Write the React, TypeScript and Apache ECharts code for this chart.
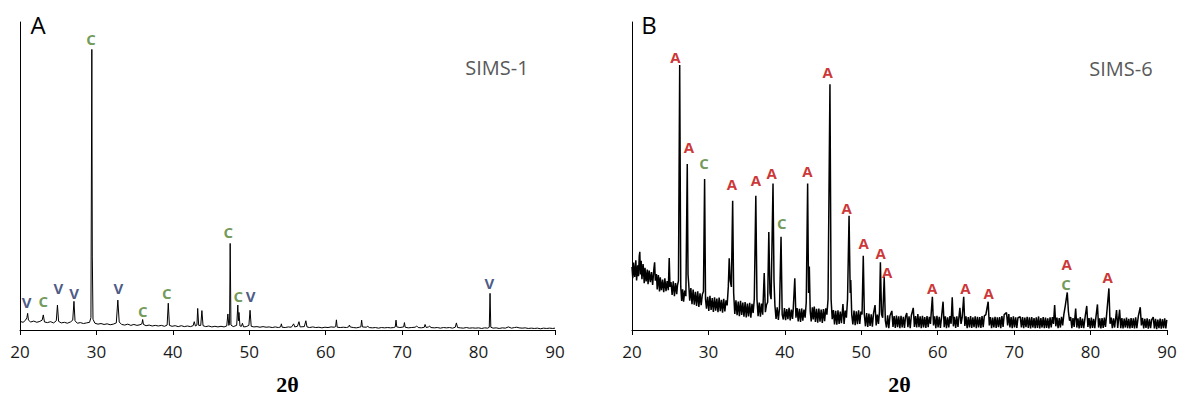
import { useEffect, useRef } from "react";
import * as echarts from "echarts";

// ---------- DATA (2θ, intensity in % of axis height) ----------
const X_MIN = 20;
const X_MAX = 90;
const X_STEP = 10;

const PATTERN_A: [number, number][] = [
  [20.0, 2.8], [20.4, 2.5], [20.7, 3.1], [20.9, 4], [21.0, 5.4], [21.1, 3.2], [21.4, 2.6], [21.8, 2.9],
  [22.2, 2.5], [22.6, 2.8], [22.9, 3.2], [23.05, 4.9], [23.2, 2.6], [23.6, 2.4], [24.0, 2.7], [24.4, 2.3],
  [24.75, 3], [24.9, 8.1], [25.05, 2.8], [25.4, 2.3], [25.8, 2.5], [26.2, 2.2], [26.6, 2.6], [26.9, 3.2],
  [27.06, 9.3], [27.2, 3], [27.5, 2.2], [27.9, 2.4], [28.3, 2.1], [28.7, 2.3], [29.1, 2.5], [29.28, 4],
  [29.4, 91.1], [29.46, 24], [29.55, 3.5], [29.8, 2.2], [30.2, 1.9], [30.6, 2.1], [31.0, 1.8], [31.4, 2],
  [31.8, 1.7], [32.2, 1.9], [32.6, 2.3], [32.8, 9.7], [32.98, 2.6], [33.3, 1.8], [33.7, 1.6], [34.1, 1.9],
  [34.5, 1.5], [34.9, 1.8], [35.3, 1.5], [35.7, 1.7], [35.95, 2], [36.05, 3.4], [36.15, 1.8], [36.5, 1.4],
  [36.9, 1.6], [37.3, 1.3], [37.7, 1.5], [38.1, 1.3], [38.5, 1.5], [38.9, 1.2], [39.25, 1.6], [39.4, 8.7],
  [39.55, 1.5], [39.9, 1.2], [40.3, 1.4], [40.7, 1.1], [41.1, 1.4], [41.5, 1.1], [41.9, 1.3], [42.3, 1.1],
  [42.65, 1.4], [42.8, 2.7], [42.95, 1.3], [43.15, 1.6], [43.25, 7], [43.38, 1.5], [43.65, 1.5], [43.8, 6.3],
  [43.95, 1.4], [44.3, 1.1], [44.7, 1.3], [45.1, 1], [45.5, 1.2], [45.9, 1], [46.3, 1.2], [46.7, 1],
  [47.05, 1.3], [47.2, 5.2], [47.32, 1.5], [47.42, 2], [47.5, 28.1], [47.6, 1.6], [47.9, 1.1], [48.35, 1.5],
  [48.5, 8.1], [48.58, 3], [48.65, 5.7], [48.78, 1.3], [48.98, 1.2], [49.1, 2.2], [49.25, 1], [49.6, 1.1],
  [49.95, 1.5], [50.1, 6.4], [50.25, 1.2], [50.6, 1], [51.0, 1.1], [51.4, 0.9], [51.8, 1.1], [52.2, 0.9],
  [52.6, 1], [53.0, 0.8], [53.4, 1], [53.8, 0.8], [54.1, 1], [54.2, 2], [54.3, 0.9], [54.7, 0.8],
  [55.1, 1], [55.5, 0.9], [55.7, 1.6], [55.8, 2], [55.95, 1], [56.3, 1.2], [56.5, 2.7], [56.65, 1],
  [57.2, 1.1], [57.4, 3], [57.55, 1], [57.9, 0.8], [58.3, 1], [58.7, 0.8], [59.1, 0.9], [59.5, 0.7],
  [59.9, 0.9], [60.3, 0.8], [60.7, 1], [61.1, 0.9], [61.3, 1.1], [61.4, 3.3], [61.5, 0.9], [61.9, 0.8],
  [62.3, 0.9], [62.7, 0.8], [63.0, 1], [63.1, 1.6], [63.2, 1], [63.6, 0.8], [64.0, 0.7], [64.4, 0.9],
  [64.6, 1], [64.7, 3.2], [64.8, 1], [65.3, 0.9], [65.5, 1.2], [65.7, 0.8], [66.1, 0.7], [66.5, 0.8],
  [66.9, 0.6], [67.3, 0.8], [67.7, 0.7], [68.1, 0.8], [68.5, 0.7], [68.9, 0.8], [69.1, 1], [69.2, 3.2],
  [69.3, 1], [69.7, 0.8], [70.2, 1], [70.3, 2.4], [70.4, 0.9], [70.8, 0.7], [71.2, 0.8], [71.7, 0.9],
  [71.9, 1.3], [72.1, 0.8], [72.5, 0.7], [72.9, 0.9], [73.0, 1.8], [73.15, 0.8], [73.45, 1], [73.6, 1.3],
  [73.75, 0.8], [74.2, 0.7], [74.6, 0.8], [75.0, 0.6], [75.4, 0.8], [75.8, 0.7], [76.2, 0.8], [76.6, 0.6],
  [76.95, 0.9], [77.1, 2.3], [77.25, 0.8], [77.6, 0.7], [78.0, 0.6], [78.4, 0.8], [78.8, 0.6], [79.2, 0.7],
  [79.6, 0.6], [80.0, 0.7], [80.4, 0.5], [80.8, 0.7], [81.2, 0.6], [81.4, 0.9], [81.5, 11.9], [81.6, 0.9],
  [81.9, 0.6], [82.3, 0.7], [82.7, 0.5], [83.1, 0.7], [83.5, 0.6], [83.9, 1], [84.3, 0.6], [84.7, 0.8],
  [85.0, 0.9], [85.3, 0.7], [85.7, 0.6], [86.1, 0.7], [86.5, 0.5], [86.9, 0.6], [87.3, 0.5], [87.7, 0.6],
  [88.1, 0.4], [88.5, 0.6], [88.9, 0.5], [89.3, 0.6], [89.7, 0.5], [90.0, 0.6],
];

const PATTERN_B: [number, number][] = [
  [20.0, 20.5], [20.1, 16.8], [20.2, 21.9], [20.35, 17.2], [20.5, 22.6], [20.6, 16.1], [20.75, 21], [20.85, 17.5],
  [20.95, 24], [21.02, 25.4], [21.1, 18], [21.2, 22.5], [21.3, 16.5], [21.45, 21.4], [21.6, 15.2], [21.7, 20.2],
  [21.85, 15.8], [22.0, 19.6], [22.1, 14.9], [22.25, 19.3], [22.4, 15.5], [22.55, 18.8], [22.7, 14.6], [22.85, 19.5],
  [22.96, 22], [23.05, 16], [23.2, 18.2], [23.3, 13.2], [23.45, 17.8], [23.6, 12.5], [23.7, 17.1], [23.85, 12.9],
  [24.0, 16.4], [24.15, 12.3], [24.3, 16.8], [24.45, 12.6], [24.6, 15.9], [24.75, 12.9], [24.87, 23.4], [24.97, 14],
  [25.1, 15.6], [25.25, 11.4], [25.4, 15.8], [25.55, 11], [25.7, 15.2], [25.85, 11.6], [25.95, 14.5], [26.08, 16],
  [26.24, 86], [26.38, 14], [26.5, 9.4], [26.62, 13.2], [26.75, 9.2], [26.9, 12.8], [27.05, 11], [27.23, 53.9],
  [27.33, 18], [27.42, 15], [27.55, 9.5], [27.7, 13.6], [27.85, 8.4], [28.0, 13.1], [28.15, 8.2], [28.3, 12.4],
  [28.45, 7.8], [28.6, 12.6], [28.75, 7.5], [28.9, 11.9], [29.05, 8.1], [29.2, 11.5], [29.35, 12.5], [29.5, 49],
  [29.62, 10], [29.75, 6.9], [29.9, 10.8], [30.05, 6.2], [30.2, 11.1], [30.35, 6.5], [30.5, 10.4], [30.65, 5.9],
  [30.8, 10.6], [30.95, 6.3], [31.1, 10.2], [31.25, 5.8], [31.4, 10.5], [31.55, 6.1], [31.7, 9.8], [31.85, 5.6],
  [32.0, 10.1], [32.15, 6], [32.3, 9.6], [32.45, 8], [32.6, 14], [32.72, 23.3], [32.85, 16], [33.0, 14],
  [33.17, 42], [33.3, 12], [33.45, 5.2], [33.6, 9.6], [33.75, 4.8], [33.9, 9.2], [34.05, 4.5], [34.2, 9.5],
  [34.35, 4.9], [34.5, 8.9], [34.65, 4.3], [34.8, 9.1], [34.95, 4.1], [35.1, 8.6], [35.25, 4.4], [35.4, 8.8],
  [35.55, 4], [35.7, 8.5], [35.85, 5.5], [36.0, 10], [36.2, 43.6], [36.35, 10], [36.5, 4.5], [36.65, 8.9],
  [36.8, 4.3], [36.95, 8.6], [37.1, 5], [37.3, 18.5], [37.45, 5.8], [37.6, 8.2], [37.75, 9], [37.9, 31.8],
  [38.05, 12], [38.2, 10], [38.45, 47.6], [38.58, 16], [38.7, 8], [38.85, 3.6], [39.0, 7.4], [39.15, 3.3],
  [39.3, 7], [39.5, 30.3], [39.65, 5], [39.8, 3.4], [39.95, 7.1], [40.1, 3.2], [40.25, 6.8], [40.4, 3.5],
  [40.55, 7.2], [40.7, 3.1], [40.85, 6.6], [41.0, 3.6], [41.1, 7], [41.3, 16.8], [41.45, 4], [41.6, 7.1],
  [41.75, 2.8], [41.9, 6.9], [42.05, 2.6], [42.2, 7], [42.35, 3], [42.5, 6.6], [42.65, 4], [42.8, 9],
  [42.98, 47.6], [43.1, 12], [43.2, 20.6], [43.32, 6], [43.45, 2.8], [43.6, 7.4], [43.72, 3.4], [43.85, 7.6],
  [44.0, 2.6], [44.15, 6.9], [44.3, 2.4], [44.45, 7], [44.6, 2.7], [44.75, 6.6], [44.9, 2.3], [45.05, 6.8],
  [45.2, 2.9], [45.35, 7], [45.5, 5], [45.65, 10], [45.9, 79.8], [46.05, 10], [46.2, 3.5], [46.35, 6.5],
  [46.5, 1.8], [46.65, 6.2], [46.8, 1.7], [46.95, 6.4], [47.1, 2], [47.25, 6], [47.4, 2.2], [47.6, 8.4],
  [47.75, 2], [47.9, 6.3], [48.05, 4], [48.2, 10], [48.4, 37.1], [48.55, 12], [48.62, 16.2], [48.75, 5],
  [48.9, 1.8], [49.05, 6.3], [49.2, 1.6], [49.35, 6.1], [49.5, 1.9], [49.65, 6.4], [49.8, 2], [49.95, 6],
  [50.1, 5], [50.26, 24.1], [50.4, 5], [50.55, 1.2], [50.7, 5.5], [50.85, 1], [51.0, 5.3], [51.15, 1.3],
  [51.3, 5.1], [51.45, 1.1], [51.6, 5.4], [51.8, 8.1], [51.95, 1.5], [52.1, 5], [52.25, 2], [52.38, 6],
  [52.5, 22], [52.65, 5], [52.8, 4], [53.0, 17.2], [53.15, 3], [53.3, 0.8], [53.45, 4.8], [53.6, 0.6],
  [53.75, 4.6], [54.0, 6.2], [54.15, 1], [54.3, 4.5], [54.45, 0.7], [54.6, 4.7], [54.75, 0.9], [54.9, 4.4],
  [55.05, 0.6], [55.2, 4.6], [55.35, 0.8], [55.5, 4.3], [55.65, 0.7], [55.8, 4.5], [55.95, 5.5], [56.1, 0.9],
  [56.25, 4.4], [56.4, 0.6], [56.55, 4.7], [56.8, 7.2], [56.95, 1], [57.1, 4.5], [57.25, 0.8], [57.4, 5.2],
  [57.55, 0.9], [57.7, 4.4], [57.85, 0.6], [58.0, 4.6], [58.15, 0.8], [58.3, 4.2], [58.45, 0.7], [58.6, 4.5],
  [58.75, 0.9], [58.9, 4.3], [59.05, 2], [59.3, 10.8], [59.45, 1.5], [59.6, 4.4], [59.75, 0.6], [59.9, 4.6],
  [60.05, 0.8], [60.2, 4.3], [60.35, 0.7], [60.5, 4.2], [60.7, 9.2], [60.85, 0.9], [61.0, 4.4], [61.15, 0.6],
  [61.3, 4.1], [61.45, 0.8], [61.6, 4.5], [61.75, 2], [61.9, 10.6], [62.05, 1.2], [62.2, 4.3], [62.35, 0.7],
  [62.5, 4.4], [62.65, 1], [62.9, 7.2], [63.05, 2], [63.2, 4], [63.4, 10.8], [63.55, 1.3], [63.7, 4.4],
  [63.85, 0.6], [64.0, 4.2], [64.15, 0.8], [64.3, 4.5], [64.45, 0.7], [64.6, 4.1], [64.75, 0.9], [64.9, 4.4],
  [65.05, 0.6], [65.2, 4.3], [65.35, 0.8], [65.5, 4.2], [65.65, 0.7], [65.8, 4.5], [65.95, 0.9], [66.1, 4.6],
  [66.3, 5], [66.6, 9.2], [66.75, 1.5], [66.9, 4.2], [67.05, 0.6], [67.2, 4.0], [67.35, 0.8], [67.5, 4.3],
  [67.65, 0.7], [67.8, 4.1], [67.95, 0.9], [68.1, 4.2], [68.25, 0.6], [68.4, 4.5], [68.55, 1], [68.7, 5],
  [69.0, 5.7], [69.15, 1.5], [69.3, 5.2], [69.45, 0.8], [69.6, 4.2], [69.75, 0.6], [69.9, 4.4], [70.05, 0.8],
  [70.2, 4.1], [70.35, 0.7], [70.5, 4], [70.8, 4.3], [70.95, 0.8], [71.1, 4.2], [71.25, 0.6], [71.4, 4],
  [71.55, 0.9], [71.7, 4.3], [71.85, 0.7], [72.0, 4.1], [72.15, 0.5], [72.3, 4.2], [72.45, 0.8], [72.6, 3.9],
  [72.75, 0.6], [72.9, 4.1], [73.05, 0.7], [73.2, 4.4], [73.35, 0.5], [73.5, 3.9], [73.65, 0.8], [73.8, 4.2],
  [73.95, 0.6], [74.1, 4.0], [74.25, 0.7], [74.4, 3.8], [74.55, 0.5], [74.7, 4.1], [74.85, 0.8], [75.0, 4.2],
  [75.15, 2], [75.3, 8.1], [75.45, 1.2], [75.6, 4], [75.75, 0.6], [75.9, 3.9], [76.05, 0.8], [76.2, 4.3],
  [76.35, 1.5], [76.5, 5], [76.7, 8], [76.95, 12.2], [77.1, 6], [77.25, 3], [77.4, 4.2], [77.55, 0.6],
  [77.7, 3.9], [77.85, 1], [78.05, 7], [78.2, 0.8], [78.35, 3.8], [78.5, 0.5], [78.65, 4.2], [78.8, 0.7],
  [78.95, 3.7], [79.1, 0.6], [79.3, 4.5], [79.5, 7.8], [79.65, 1], [79.8, 3.9], [79.95, 0.5], [80.1, 4.0],
  [80.25, 0.7], [80.4, 3.6], [80.55, 0.6], [80.7, 4.2], [80.9, 8.3], [81.05, 0.8], [81.2, 3.8], [81.35, 0.5],
  [81.5, 3.9], [81.65, 0.7], [81.8, 4], [81.95, 1], [82.1, 5], [82.4, 13.5], [82.55, 2], [82.7, 4],
  [82.85, 0.6], [83.0, 3.8], [83.15, 0.8], [83.4, 6.5], [83.55, 0.7], [83.8, 6.6], [83.95, 0.6], [84.1, 3.9],
  [84.25, 0.5], [84.4, 3.7], [84.55, 0.8], [84.7, 4], [84.85, 0.6], [85.0, 3.6], [85.15, 0.5], [85.3, 3.9],
  [85.45, 0.7], [85.6, 3.8], [85.75, 0.5], [85.9, 4.1], [86.05, 0.6], [86.25, 4.5], [86.5, 7.4], [86.65, 1.5],
  [86.8, 3.9], [86.95, 0.5], [87.1, 3.6], [87.25, 0.7], [87.4, 3.8], [87.55, 0.4], [87.7, 3.5], [87.85, 0.6],
  [88.0, 3.4], [88.2, 4.2], [88.35, 0.5], [88.5, 3.6], [88.65, 0.3], [88.8, 3.4], [88.95, 0.6], [89.1, 3.7],
  [89.25, 0.4], [89.4, 3.5], [89.55, 0.6], [89.7, 3.8], [89.85, 0.5], [89.97, 3.3],
];

// phase labels: [phase, 2θ, label height]
const LABELS_A: [string, number, number][] = [
  ["V", 20.87, 9.2], ["C", 23.05, 9.4], ["V", 25.01, 13.5], ["V", 27.07, 11.9], ["C", 29.29, 94.5],
  ["V", 32.86, 13.5], ["C", 36.05, 6.3], ["C", 39.19, 11.9], ["C", 47.26, 31.7], ["C", 48.57, 11.1],
  ["V", 50.18, 11], ["V", 81.4, 15.2],
];

const LABELS_B: [string, number, number][] = [
  ["A", 25.67, 88.5], ["A", 27.46, 59.4], ["C", 29.42, 54.2], ["A", 33.08, 47.4], ["A", 36.22, 48.7],
  ["A", 38.28, 51.1], ["C", 39.59, 34.6], ["A", 42.94, 51.7], ["A", 45.6, 83.9], ["A", 48.09, 39.5],
  ["A", 50.31, 28.3], ["A", 52.54, 25.1], ["A", 53.4, 18.9], ["A", 59.29, 13.7], ["A", 63.61, 13.7],
  ["A", 66.67, 11.9], ["A", 76.87, 21.4], ["C", 76.78, 14.9], ["A", 82.24, 17.1],
];

const PHASE_COLORS: Record<string, string> = { A: "#C00000", C: "#4E7F2F", V: "#1B3068" };
const PANEL_TITLES = ["A", "B"];
const SAMPLE_NAMES = ["SIMS-1", "SIMS-6"];
const AXIS_NAME = "2θ";

function buildOption() {
  const grids = [
    { left: 20, top: 22, width: 535, height: 308 },
    { left: 632, top: 22, width: 535, height: 308 },
  ];
  const xAxis = grids.map((_, i) => ({
    type: "value",
    gridIndex: i,
    min: X_MIN,
    max: X_MAX,
    interval: X_STEP,
    axisLine: { show: true, onZero: false, lineStyle: { color: "#000", width: 1 } },
    axisTick: { show: true, inside: false, length: 5, lineStyle: { color: "#000" } },
    axisLabel: { fontSize: 17, color: "#1a1a1a", fontFamily: "Open Sans", margin: 13 },
    splitLine: { show: false },
    name: AXIS_NAME,
    nameLocation: "middle",
    nameGap: 43,
    nameTextStyle: { fontFamily: "Liberation Serif", fontWeight: "bold", fontSize: 22, color: "#000" },
  }));
  const yAxis = grids.map((_, i) => ({
    type: "value",
    gridIndex: i,
    min: 0,
    max: 100,
    axisLine: { show: true, onZero: false, lineStyle: { color: "#000", width: 1 } },
    axisTick: { show: false },
    axisLabel: { show: false },
    splitLine: { show: false },
  }));

  const series: any[] = [];
  [PATTERN_A, PATTERN_B].forEach((pat, i) => {
    series.push({
      type: "line",
      xAxisIndex: i,
      yAxisIndex: i,
      data: pat,
      showSymbol: false,
      symbol: "none",
      lineStyle: { color: "#000", width: i === 0 ? 1 : 1.5 },
      z: 2,
    });
  });
  [LABELS_A, LABELS_B].forEach((labels, i) => {
    Object.keys(PHASE_COLORS).forEach((phase) => {
      const items = labels.filter((l) => l[0] === phase);
      if (!items.length) return;
      series.push({
        type: "scatter",
        xAxisIndex: i,
        yAxisIndex: i,
        symbol: "circle",
        symbolSize: 1,
        itemStyle: { color: "rgba(0,0,0,0)" },
        data: items.map((l) => ({ name: l[0], value: [l[1], l[2]] })),
        label: {
          show: true,
          position: "inside",
          formatter: "{b}",
          color: PHASE_COLORS[phase],
          fontFamily: "Open Sans",
          fontWeight: "bold",
          fontSize: 15,
        },
        z: 3,
      });
    });
  });

  const textEl = (text: string, x: number, y: number, size: number, fill: string) => ({
    type: "text",
    x,
    y,
    style: {
      text,
      fill,
      fontSize: size,
      fontFamily: "Open Sans",
      textAlign: "center",
      textVerticalAlign: "middle",
      align: "center",
      verticalAlign: "middle",
    },
  });

  return {
    animation: false,
    backgroundColor: "#fff",
    grid: grids,
    xAxis,
    yAxis,
    series,
    graphic: [
      textEl(PANEL_TITLES[0], 38, 24, 24, "#000"),
      textEl(PANEL_TITLES[1], 649, 24, 24, "#000"),
      textEl(SAMPLE_NAMES[0], 497, 67, 20, "#595959"),
      textEl(SAMPLE_NAMES[1], 1121, 68, 20, "#595959"),
    ],
  };
}

export default function App() {
  const ref = useRef<HTMLDivElement>(null);
  useEffect(() => {
    const chart = echarts.init(ref.current!, null, { renderer: "svg" });
    chart.setOption(buildOption() as any);
    return () => chart.dispose();
  }, []);
  return (
    <div
      ref={ref}
      style={{ position: "fixed", left: 0, top: 0, width: 1185, height: 402 }}
    />
  );
}
